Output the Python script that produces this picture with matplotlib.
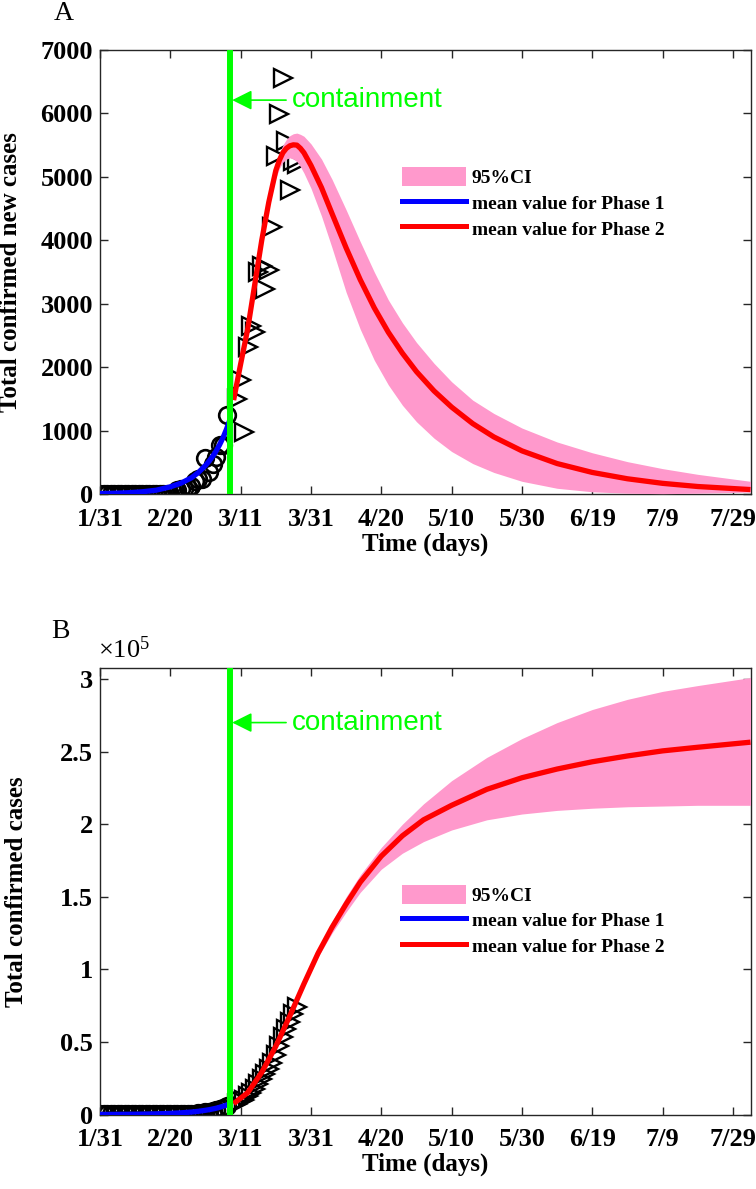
import numpy as np
import matplotlib
matplotlib.use('Agg')
import matplotlib.pyplot as plt
from matplotlib.patches import Patch
from matplotlib.lines import Line2D

# ---------------- data ----------------
tick_days = [0, 20, 40, 60, 80, 100, 120, 140, 160, 180]
tick_labels = ['1/31', '2/20', '3/11', '3/31', '4/20', '5/10', '5/30', '6/19', '7/9', '7/29']

containment_day = 37

# observed daily new cases, phase 1 (circles)
p1_days = list(range(0, 37))
p1_new = [2, 0, 0, 0, 0, 0, 1, 0, 0, 0, 0, 0, 0, 0, 0, 0, 0, 0, 0, 0, 0,
          17, 59, 76, 74, 93, 131, 202, 233, 240, 566, 342, 466, 587, 769, 778, 1247]
p1_cum = [2, 2, 2, 2, 2, 2, 3, 3, 3, 3, 3, 3, 3, 3, 3, 3, 3, 3, 3, 3, 3,
          20, 79, 155, 229, 322, 453, 655, 888, 1128, 1694, 2036, 2502, 3089, 3858, 4636, 5883]

# observed daily new cases, phase 2 (triangles)
p2_days = list(range(39, 57))
p2_new = [1492, 1797, 977, 2313, 2651, 2547, 3497, 3590, 3233, 3526, 4207, 5322,
          5986, 6557, 5560, 4789, 5249, 5210]
p2_cum = [7375, 9172, 10149, 12462, 15113, 17660, 21157, 24747, 27980, 31506, 35713,
          41035, 47021, 53578, 59138, 63927, 69176, 74386]

# phase 1 model mean (blue)
b_days = [0, 4, 8, 12, 16, 20, 23, 26, 28, 30, 31, 32, 33, 34, 35, 36, 37]
b_new = [7, 12, 20, 35, 60, 113, 170, 255, 340, 450, 515, 590, 675, 775, 890, 1025, 1180]
b_cum = [40, 80, 150, 260, 450, 800, 1150, 1700, 2200, 2900, 3300, 3800, 4300, 4950, 5700, 6500, 7400]

# phase 2 model, panel A (daily new cases)
a_days = [38, 40, 42, 44, 46, 48, 50, 51, 52, 53, 54, 55, 56, 57, 58, 60, 63, 66, 70, 74, 78,
          82, 86, 90, 95, 100, 106, 112, 120, 130, 140, 150, 160, 170, 185]
a_mean = [1480, 2050, 2600, 3300, 4000, 4600, 5100, 5260, 5380, 5450, 5490, 5505, 5500, 5450,
          5380, 5180, 4830, 4420, 3880, 3380, 2935, 2550, 2220, 1930, 1625, 1370, 1110, 900,
          680, 480, 340, 240, 168, 118, 70]
a_upper = [1500, 2080, 2640, 3350, 4060, 4680, 5200, 5380, 5500, 5590, 5650, 5680, 5690, 5670,
           5640, 5520, 5280, 4960, 4480, 3980, 3500, 3060, 2700, 2390, 2060, 1770, 1480, 1270,
           1040, 820, 650, 510, 400, 310, 200]
a_lower = [1460, 2020, 2560, 3250, 3940, 4520, 4980, 5130, 5230, 5280, 5300, 5280, 5240, 5160,
           5060, 4820, 4380, 3880, 3180, 2600, 2110, 1720, 1400, 1140, 880, 670, 480, 340, 200,
           90, 35, 12, 5, 12, 30]

# phase 2 model, panel B (cumulative cases)
c_days = [38, 42, 46, 50, 54, 58, 62, 66, 70, 74, 80, 86, 92, 100, 110, 120, 130, 140, 150,
          160, 170, 185]
c_mean = [7500, 15000, 29000, 47000, 68000, 90000, 111000, 129000, 145000, 160000, 178000,
          192000, 203000, 213000, 224000, 232000, 238000, 243000, 247000, 250500, 253000, 256500]
c_upper = [7500, 15100, 29300, 47600, 69000, 91500, 113500, 133000, 150000, 165000, 184000,
           200000, 214000, 230000, 246000, 259000, 270000, 279000, 286000, 291500, 295500, 301000]
c_lower = [7500, 14900, 28700, 46400, 67000, 88500, 108500, 125000, 139500, 153000, 169000,
           180000, 188000, 196000, 203000, 207000, 209500, 211000, 212000, 212500, 213000, 213000]

# ---------------- style ----------------
plt.rcParams['font.family'] = ['Liberation Serif', 'DejaVu Serif']
plt.rcParams['mathtext.fontset'] = 'custom'
plt.rcParams['mathtext.rm'] = 'Liberation Serif'
plt.rcParams['mathtext.it'] = 'Liberation Serif'
plt.rcParams['mathtext.default'] = 'regular'

PINK = '#FF99CC'
GREEN = '#00FF00'
AXC = '#262626'
TICKFS = 19
LABFS = 18

fig = plt.figure(figsize=(7.56, 11.89), dpi=100)
W, H = 756, 1189


def make_ax(top_px, bot_px):
    left, right = 100, 750.5
    return fig.add_axes([left / W, 1 - bot_px / H, (right - left) / W, (bot_px - top_px) / H])


axA = make_ax(50, 494)
axB = make_ax(668, 1114.5)


def style(ax):
    ax.set_xlim(0, 185)
    ax.set_xticks(tick_days)
    ax.set_xticklabels(tick_labels)
    ax.tick_params(direction='in', length=6, width=1, top=True, right=True,
                   colors=AXC, labelcolor='black', labelsize=TICKFS)
    ax.tick_params(axis='x', pad=10)
    ax.tick_params(axis='y', pad=5)
    for lab in ax.get_xticklabels() + ax.get_yticklabels():
        lab.set_fontweight('bold')
    for s in ax.spines.values():
        s.set_color(AXC)
        s.set_linewidth(1)
    ax.set_xlabel('Time (days)', fontsize=LABFS, fontweight='bold', labelpad=1)


def legend(ax, top_frac):
    handles = [Patch(facecolor=PINK, edgecolor='none'),
               Line2D([], [], color='blue', lw=3.6),
               Line2D([], [], color='red', lw=3.6)]
    ax.legend(handles, ['95%CI', 'mean value for Phase 1', 'mean value for Phase 2'],
              loc='upper left', bbox_to_anchor=(0.465, top_frac), frameon=False,
              borderpad=0, borderaxespad=0, handlelength=3.25, handleheight=1.15,
              handletextpad=0.3, labelspacing=0.28,
              prop={'family': 'Liberation Serif', 'weight': 'bold', 'size': 14})


def containment(ax, yval):
    ax.annotate('containment', xy=(containment_day + 0.6, yval), xytext=(54.5, yval),
                color=GREEN, fontsize=20, family='Liberation Sans', va='center', ha='left',
                arrowprops=dict(arrowstyle='-|>', color=GREEN, lw=1.2, mutation_scale=30,
                                shrinkA=2, shrinkB=0), zorder=6)


MS_O, MS_T = 12, 12.5

# ---------------- panel A ----------------
ax = axA
ax.plot(p1_days, p1_new, 'o', mfc='none', mec='black', ms=MS_O, mew=1.9, zorder=2)
ax.plot(p2_days, p2_new, '>', mfc='none', mec='black', ms=MS_T, mew=1.7, zorder=2)
ax.fill_between(a_days, a_lower, a_upper, color=PINK, lw=0, zorder=3)
ax.plot(b_days, b_new, color='blue', lw=3.8, zorder=4, solid_capstyle='butt')
ax.plot(a_days, a_mean, color='red', lw=3.8, zorder=4, solid_capstyle='butt')
ax.axvline(containment_day, color=GREEN, lw=4.3, zorder=5)
ax.set_ylim(0, 7000)
ax.set_yticks(range(0, 7001, 1000))
style(ax)
ax.set_ylabel('Total confirmed new cases', fontsize=LABFS, fontweight='bold')
ax.yaxis.set_label_coords(-0.12, 0.5)
containment(ax, 6210)
legend(ax, 0.7365)
fig.text(64 / W, 1 - 13 / H, 'A', fontsize=20, ha='center', va='center')

# ---------------- panel B ----------------
ax = axB
ax.plot(p1_days, p1_cum, 'o', mfc='none', mec='black', ms=MS_O, mew=1.9, zorder=2)
ax.plot(p2_days, p2_cum, '>', mfc='none', mec='black', ms=MS_T, mew=1.7, zorder=2)
ax.fill_between(c_days, c_lower, c_upper, color=PINK, lw=0, zorder=3)
ax.plot(b_days, b_cum, color='blue', lw=3.8, zorder=4, solid_capstyle='butt')
ax.plot(c_days, c_mean, color='red', lw=3.8, zorder=4, solid_capstyle='butt')
ax.axvline(containment_day, color=GREEN, lw=4.3, zorder=5)
ax.set_ylim(0, 3.076e5)
yt = [0, 0.5e5, 1e5, 1.5e5, 2e5, 2.5e5, 3e5]
ax.set_yticks(yt)
ax.set_yticklabels(['0', '0.5', '1', '1.5', '2', '2.5', '3'])
style(ax)
ax.set_ylabel('Total confirmed cases', fontsize=LABFS, fontweight='bold')
ax.yaxis.set_label_coords(-0.11, 0.5)
containment(ax, 2.7e5)
legend(ax, 0.515)
fig.text(60 / W, 1 - 632 / H, 'B', fontsize=20, ha='center', va='center')
fig.text(98 / W, 1 - 650 / H, r'$\times 10^{5}$', fontsize=19, ha='left', va='center')

fig.savefig('out.png', dpi=100)
